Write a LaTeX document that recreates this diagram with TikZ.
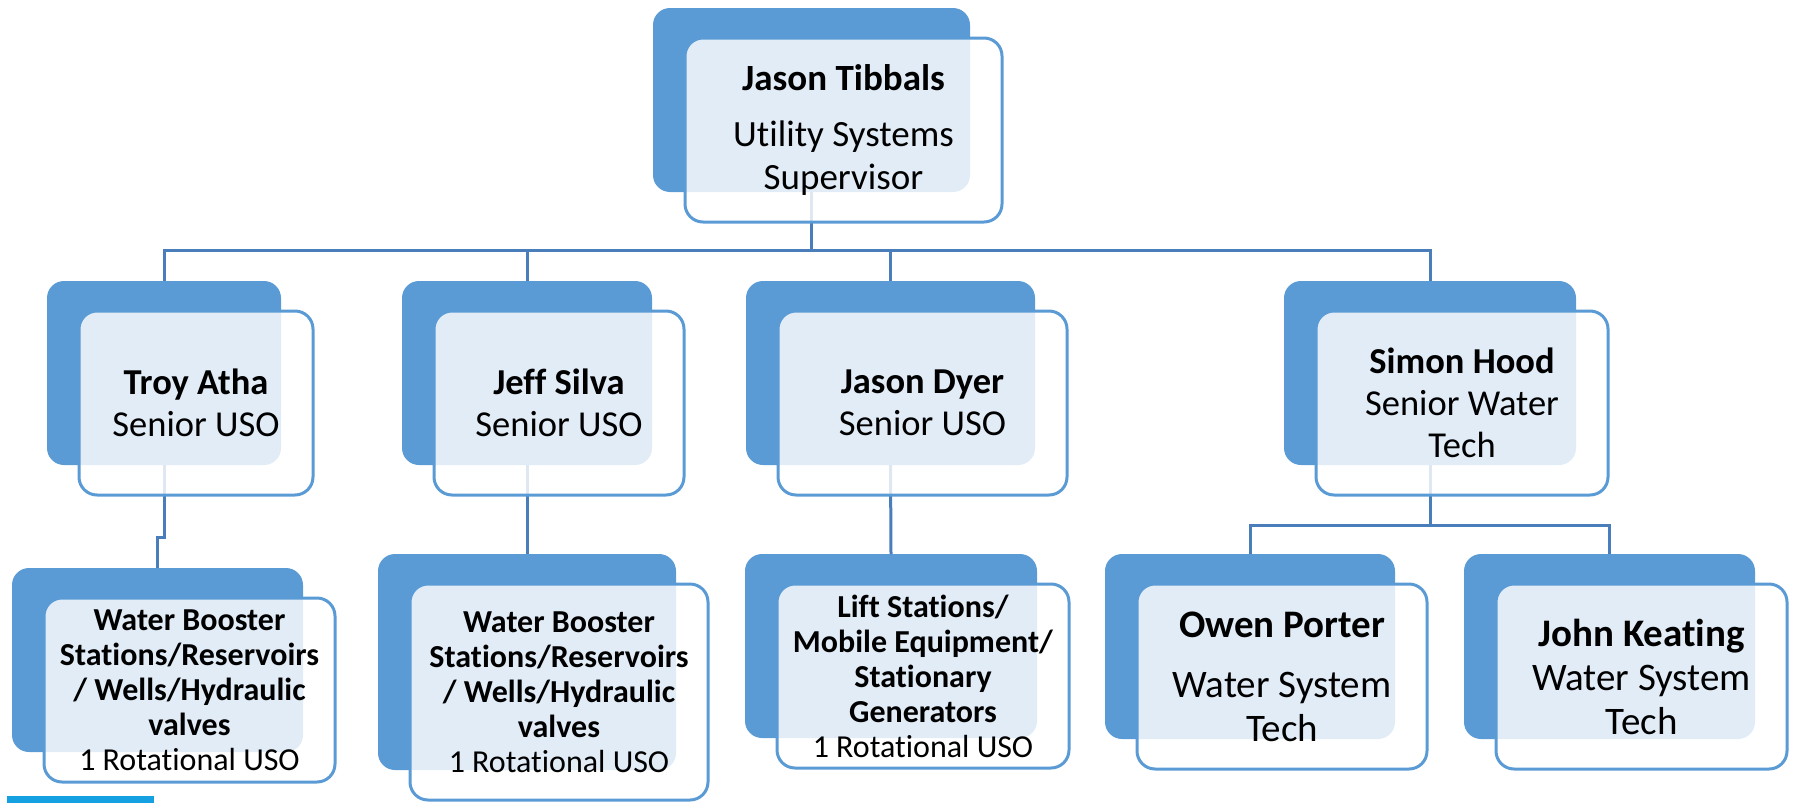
\documentclass[tikz,border=0pt]{standalone}
\usepackage{fontspec}
\setmainfont{Carlito}[Ligatures=NoCommon]

\definecolor{boxblue}{RGB}{91,155,213}
\definecolor{lineblue}{RGB}{74,126,187}
\definecolor{tabblue}{RGB}{20,160,225}

\pgfdeclarelayer{back}
\pgfsetlayers{back,main}

\tikzset{
  backbox/.style={rectangle, rounded corners=17pt, fill=boxblue,
    inner sep=0pt, outer sep=0pt},
  frontbox/.style={rectangle, rounded corners=18pt, draw=boxblue,
    line width=3pt, fill=white, fill opacity=0.82, text opacity=1,
    inner sep=0pt, outer sep=0pt, align=center, text=black},
  conn/.style={draw=lineblue, line width=3pt},
}

% #1 name, #2-#5 corners of the shadow card, #6 font, #7 text
\newcommand\orgunit[7]{%
  \pgfmathsetmacro\bw{#4-#2}%
  \pgfmathsetmacro\bh{#5-#3}%
  \pgfmathsetmacro\bx{(#2+#4)/2}%
  \pgfmathsetmacro\by{(#3+#5)/2}%
  \begin{pgfonlayer}{back}
    \node[backbox, minimum width=\bw pt, minimum height=\bh pt] (#1B) at (\bx,\by) {};
  \end{pgfonlayer}
  \node[frontbox, minimum width=\bw pt, minimum height=\bh pt, font=#6]
    (#1F) at (\bx+32,\by+30) {#7};
}

\newcommand\namefont{\fontsize{36.5}{42}\selectfont}
\newcommand\dutyfont{\fontsize{32}{35}\selectfont}
\newcommand\techfont{\fontsize{39}{44}\selectfont}

\begin{document}
\begin{tikzpicture}[x=1pt, y=-1pt]
  \useasboundingbox (0,0) rectangle (1794,803);

  % supervisor
  \orgunit{tib}{653}{8}{970}{192}{\fontsize{37}{43}\selectfont}
    {\textbf{Jason Tibbals}\\[13pt]Utility Systems\\Supervisor}

  % senior staff
  \orgunit{atha}{47}{281}{281}{465}{\namefont}
    {\textbf{Troy Atha}\\Senior USO}
  \orgunit{silva}{402}{281}{652}{465}{\namefont}
    {\textbf{Jeff Silva}\\Senior USO}
  \orgunit{dyer}{746}{281}{1035}{465}{\namefont}
    {\textbf{Jason Dyer}\\Senior USO}
  \orgunit{hood}{1284}{281}{1576}{465}{\namefont}
    {\textbf{Simon Hood}\\Senior Water\\Tech}

  % duty areas
  \orgunit{wellsA}{12}{568}{303}{752}{\dutyfont}
    {\textbf{Water Booster}\\\textbf{Stations/Reservoirs}\\\textbf{/ Wells/Hydraulic}\\\textbf{valves}\\1 Rotational USO}
  \orgunit{wellsB}{378}{554}{676}{770}{\dutyfont}
    {\textbf{Water Booster}\\\textbf{Stations/Reservoirs}\\\textbf{/ Wells/Hydraulic}\\\textbf{valves}\\1 Rotational USO}
  \orgunit{lift}{745}{554}{1037}{738}{\dutyfont}
    {\textbf{Lift Stations/}\\\textbf{Mobile Equipment/}\\\textbf{Stationary}\\\textbf{Generators}\\1 Rotational USO}

  % water techs
  \orgunit{porter}{1105}{554}{1395}{739}{\techfont}
    {\textbf{Owen Porter}\\[16pt]Water System\\Tech}
  \orgunit{keating}{1464}{554}{1755}{739}{\techfont}
    {\textbf{John Keating}\\Water System\\Tech}

  % reporting lines
  \coordinate (busA) at (0,250);
  \coordinate (busB) at (0,525);
  \coordinate (kink) at (0,537);
  \begin{pgfonlayer}{back}
    \draw[conn] (tibB.south) -- (tibB.south |- busA);
    \draw[conn] (athaB.north) -- (athaB.north |- busA) -- (hoodB.north |- busA) -- (hoodB.north);
    \draw[conn] (silvaB.north |- busA) -- (silvaB.north);
    \draw[conn] (dyerB.north |- busA) -- (dyerB.north);
    \draw[conn] (athaB.south) -- (athaB.south |- kink) -- (wellsAB.north |- kink) -- (wellsAB.north);
    \draw[conn] (silvaB.south) -- (wellsBB.north);
    \draw[conn] (dyerB.south) -- (liftB.north);
    \draw[conn] (hoodB.south) -- (hoodB.south |- busB);
    \draw[conn] (porterB.north) -- (porterB.north |- busB) -- (keatingB.north |- busB) -- (keatingB.north);
  \end{pgfonlayer}

  % tab at the lower edge
  \fill[tabblue] (7,796) rectangle (154,803);
\end{tikzpicture}
\end{document}
